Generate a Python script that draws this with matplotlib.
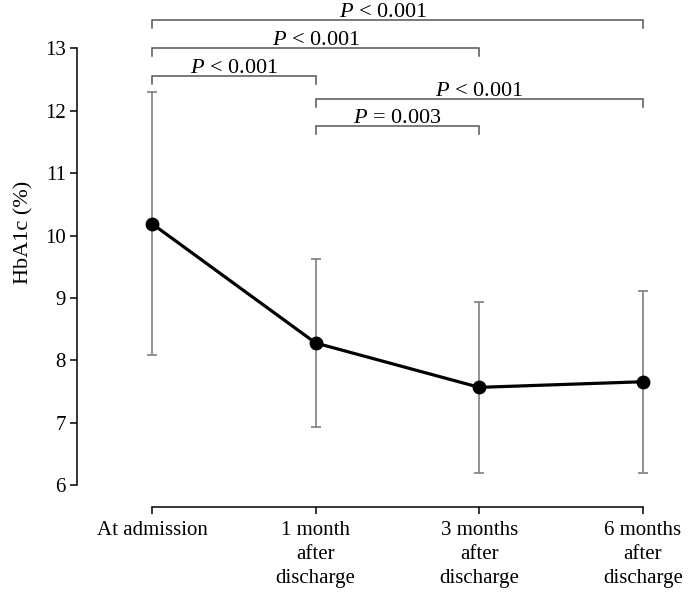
import matplotlib.pyplot as plt

# data
categories = ['At admission', '1 month\nafter\ndischarge',
              '3 months\nafter\ndischarge', '6 months\nafter\ndischarge']
hba1c_mean = [10.19, 8.28, 7.57, 7.66]
hba1c_sd = [2.11, 1.35, 1.37, 1.46]

# significance brackets: (from, to, level, text)
pairs = [(0, 3), (0, 2), (0, 1), (1, 3), (1, 2)]
levels = [13.45, 13.0, 12.55, 12.19, 11.75]
p_texts = ['< 0.001', '< 0.001', '< 0.001', '< 0.001', '= 0.003']

plt.rcParams['font.family'] = 'serif'
plt.rcParams['font.serif'] = ['Liberation Serif', 'DejaVu Serif']
plt.rcParams['mathtext.fontset'] = 'custom'
plt.rcParams['mathtext.it'] = 'Liberation Serif:italic'
plt.rcParams['mathtext.rm'] = 'Liberation Serif'

fig = plt.figure(figsize=(6.88, 5.96), dpi=100)
ax = fig.add_axes([77 / 688, 89 / 596, 611 / 688, 507 / 596])

x = list(range(len(categories)))
ax.errorbar(x, hba1c_mean, yerr=hba1c_sd, fmt='none', ecolor='#7f7f7f',
            elinewidth=1.2, capsize=3.8, capthick=1.2, zorder=1)
ax.plot(x, hba1c_mean, color='black', lw=2.3, marker='o', markersize=9,
        zorder=3)

# brackets
drop = 0.13
for (i, j), lev, t in zip(pairs, levels, p_texts):
    ax.plot([i, i, j, j], [lev - drop, lev, lev, lev - drop],
            color='#555555', lw=1.1, solid_joinstyle='miter')
    xm = (i + j) / 2
    if (i, j) == (0, 3):
        xm -= 0.09
    ax.text(xm, lev + 0.045, '$P$ ' + t, ha='center', va='baseline',
            fontsize=16)

ax.set_xlim(-0.458, 3.275)
ax.set_ylim(5.655, 13.77)

ax.set_yticks(range(6, 14))
ax.set_xticks(x)
ax.set_xticklabels(categories, linespacing=1.35)
ax.tick_params(axis='both', labelsize=15, direction='out', length=5,
               width=1.1, color='black')
ax.tick_params(axis='y', pad=3)
ax.tick_params(axis='x', pad=5)

for s in ['top', 'right']:
    ax.spines[s].set_visible(False)
ax.spines['left'].set_bounds(6, 13)
ax.spines['bottom'].set_bounds(0, 3)
ax.spines['left'].set_linewidth(1.1)
ax.spines['bottom'].set_linewidth(1.1)

ax.set_ylabel('HbA1c (%)', fontsize=16)
ax.yaxis.set_label_coords(-0.072, 0.542)

fig.savefig('out.png', dpi=100)
